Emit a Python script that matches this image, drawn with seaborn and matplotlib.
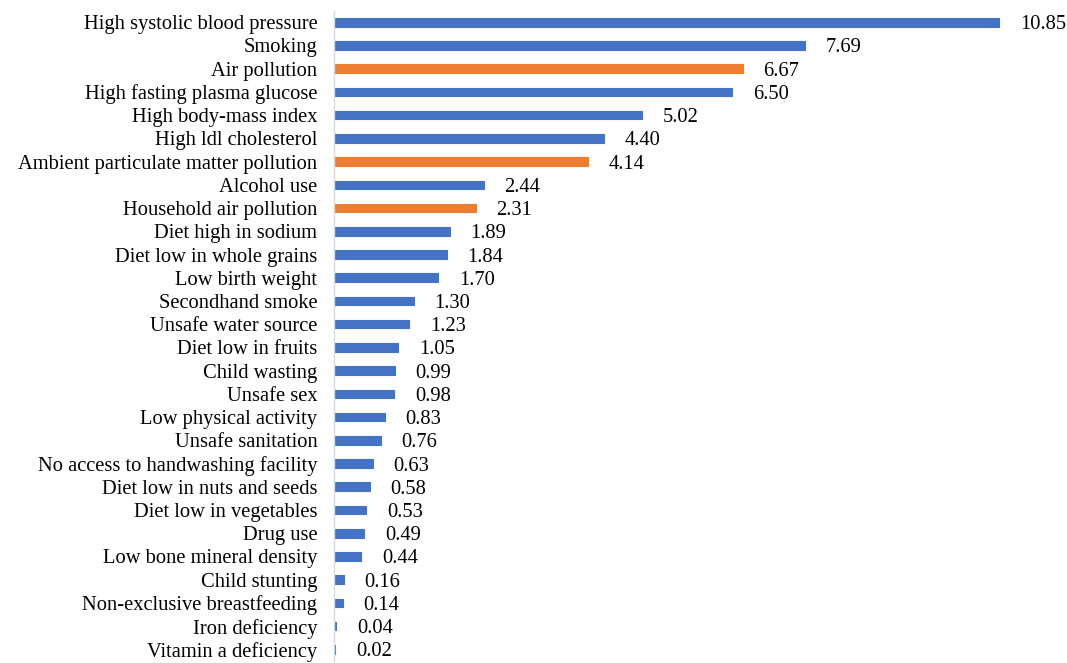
import matplotlib
matplotlib.use("Agg")
import matplotlib.pyplot as plt
import seaborn as sns
import pandas as pd

risk_factors = [
    "High systolic blood pressure", "Smoking", "Air pollution",
    "High fasting plasma glucose", "High body-mass index", "High ldl cholesterol",
    "Ambient particulate matter pollution", "Alcohol use", "Household air pollution",
    "Diet high in sodium", "Diet low in whole grains", "Low birth weight",
    "Secondhand smoke", "Unsafe water source", "Diet low in fruits",
    "Child wasting", "Unsafe sex", "Low physical activity", "Unsafe sanitation",
    "No access to handwashing facility", "Diet low in nuts and seeds",
    "Diet low in vegetables", "Drug use", "Low bone mineral density",
    "Child stunting", "Non-exclusive breastfeeding", "Iron deficiency",
    "Vitamin a deficiency",
]
values = [10.85, 7.69, 6.67, 6.50, 5.02, 4.40, 4.14, 2.44, 2.31, 1.89, 1.84,
          1.70, 1.30, 1.23, 1.05, 0.99, 0.98, 0.83, 0.76, 0.63, 0.58, 0.53,
          0.49, 0.44, 0.16, 0.14, 0.04, 0.02]
air_related = ["Air pollution", "Ambient particulate matter pollution",
               "Household air pollution"]

df = pd.DataFrame({"factor": risk_factors, "value": values})
df["group"] = ["air" if f in air_related else "other" for f in df["factor"]]
palette = {"other": "#4472C4", "air": "#ED7D31"}

sns.set_theme(style="white")
plt.rcParams["font.family"] = ["Liberation Serif", "DejaVu Serif"]

fig = plt.figure(figsize=(10.67, 6.63), dpi=100)
ax = fig.add_axes([0.313, 0.003, 0.687, 0.981])

sns.barplot(data=df, y="factor", x="value", hue="group", palette=palette,
            order=risk_factors, dodge=False, width=0.37, legend=False,
            saturation=1, ax=ax)
# thin outline in the fill colour keeps the tiniest bars visible
for patch in ax.patches:
    patch.set_edgecolor(patch.get_facecolor())
    patch.set_linewidth(0.8)

for i, v in enumerate(values):
    ax.annotate(f"{v:.2f}", xy=(v, i), xytext=(15, 0), textcoords="offset points",
                va="center_baseline", ha="left", fontsize=14.8, color="black")

ax.set_xlim(0, 11.96)
ax.set_ylim(len(values) - 0.5, -0.5)
ax.set_xlabel("")
ax.set_ylabel("")
ax.set_xticks([])
ax.tick_params(axis="y", length=0, pad=12, labelsize=14.8, labelcolor="black")
for side in ["top", "right", "bottom"]:
    ax.spines[side].set_visible(False)
ax.spines["left"].set_color("#D9D9D9")
ax.spines["left"].set_linewidth(1)

fig.savefig("out.png", dpi=100)
